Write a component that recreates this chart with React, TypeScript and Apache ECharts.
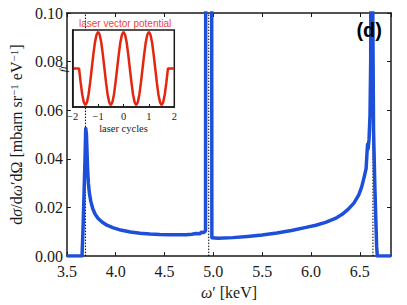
import React, { useEffect, useRef } from "react";
import * as echarts from "echarts";

// main spectrum: photon energy omega' [keV] and d sigma / d omega' d Omega
const omega = [
  3.5, 3.6, 3.655, 3.665, 3.675, 3.685, 3.693, 3.7, 3.706, 3.712, 3.72, 3.73,
  3.745, 3.765, 3.79, 3.82, 3.86, 3.91, 3.97, 4.05, 4.15, 4.25, 4.35, 4.45,
  4.55, 4.65, 4.72, 4.78, 4.82, 4.86, 4.88, 4.9, 4.915, 4.92, 4.925, 4.98,
  4.985, 5.05, 5.2, 5.35, 5.5, 5.65, 5.8, 5.95, 6.05, 6.15, 6.25, 6.32, 6.38,
  6.44, 6.49, 6.52, 6.545, 6.565, 6.575, 6.58, 6.585, 6.595, 6.605, 6.612,
  6.615, 6.628, 6.632, 6.641, 6.655, 6.673, 6.68, 6.82,
];
const dsigma = [
  0, 0, 0, 0.011, 0.025, 0.039, 0.0525, 0.05, 0.043, 0.036, 0.03, 0.026,
  0.0225, 0.0195, 0.0172, 0.0155, 0.014, 0.0127, 0.0117, 0.0107, 0.0099,
  0.0094, 0.0091, 0.0089, 0.0088, 0.0088, 0.0088, 0.009, 0.0093, 0.0092,
  0.0098, 0.0097, 0.0101, 0.0105, 0.3, 0.3, 0.0075, 0.0073, 0.0076, 0.0081,
  0.0087, 0.0095, 0.0105, 0.0118, 0.0127, 0.0139, 0.0155, 0.0172, 0.0192,
  0.0218, 0.0252, 0.0285, 0.0325, 0.036, 0.043, 0.046, 0.044, 0.048, 0.058,
  0.08, 0.3, 0.3, 0.11, 0.052, 0.028, 0.004, 0, 0,
];
// dotted reference energies
const cutoffs = [3.69, 4.953, 6.635];

// inset: laser vector potential vs laser cycles
const cycles = [
  -2, -1.75, -1.6875, -1.625, -1.5625, -1.5, -1.4375, -1.375, -1.3125, -1.25,
  -1.1875, -1.125, -1.0625, -1, -0.9375, -0.875, -0.8125, -0.75, -0.6875,
  -0.625, -0.5625, -0.5, -0.4375, -0.375, -0.3125, -0.25, -0.1875, -0.125,
  -0.0625, 0, 0.0625, 0.125, 0.1875, 0.25, 0.3125, 0.375, 0.4375, 0.5, 0.5625,
  0.625, 0.6875, 0.75, 0.8125, 0.875, 0.9375, 1, 1.0625, 1.125, 1.1875, 1.25,
  1.3125, 1.375, 1.4375, 1.5, 1.5625, 1.625, 1.6875, 1.75, 2,
];
const fL = [
  0,
  0, -0.38, -0.71, -0.92, -1, -0.92, -0.71, -0.38, 0, 0.38, 0.71, 0.92, 1, 0.92, 0.71, 0.38,
  0, -0.38, -0.71, -0.92, -1, -0.92, -0.71, -0.38, 0, 0.38, 0.71, 0.92, 1, 0.92, 0.71, 0.38,
  0, -0.38, -0.71, -0.92, -1, -0.92, -0.71, -0.38, 0, 0.38, 0.71, 0.92, 1, 0.92, 0.71, 0.38,
  0, -0.38, -0.71, -0.92, -1, -0.92, -0.71, -0.38, 0,
  0,
];

const mainTicksX = [3.5, 4.0, 4.5, 5.0, 5.5, 6.0, 6.5];

const SERIF = "Liberation Serif";
const SANS = "Liberation Sans";
const INK = "#1a1a1a";
const BLUE = "#1d4fd9";
const RED = "#e3260f";

export default function App() {
  const ref = useRef<HTMLDivElement>(null);
  useEffect(() => {
    if (!ref.current) return;
    const chart = echarts.init(ref.current, undefined, { renderer: "svg" });
    const tickStyle = { color: INK, width: 1 };
    const lineStyle = { color: INK, width: 1.5 };
    const n = { fontFamily: SERIF, fontSize: 16, color: INK };
    const it = { fontFamily: SERIF, fontSize: 16, color: INK, fontStyle: "italic" };
    const sup = { fontFamily: SERIF, fontSize: 11, color: INK, verticalAlign: "top" };

    const option: any = {
      animation: false,
      backgroundColor: "#fff",
      textStyle: { fontFamily: SERIF },
      grid: [
        { left: 57, right: 16, top: 13, bottom: 40, z: 0 },
        {
          left: 72.7, top: 30, width: 101.6, height: 77, z: 3,
          show: true, backgroundColor: "#fff", borderColor: INK, borderWidth: 1.5,
        },
      ],
      xAxis: [
        {
          type: "value", gridIndex: 0, min: 3.5, max: 6.82, interval: 0.5,
          axisLine: { show: true, onZero: false, lineStyle },
          axisTick: { show: true, inside: true, length: 4, lineStyle: tickStyle },
          axisLabel: {
            fontFamily: SERIF, fontSize: 16, color: INK, margin: 7,
            showMaxLabel: false,
            formatter: (v: number) =>
              mainTicksX.some((t) => Math.abs(t - v) < 1e-6) ? v.toFixed(1) : "",
          },
          splitLine: { show: false },
          name: "{i|ω}{n|′ [keV]}",
          nameLocation: "middle",
          nameGap: 22,
          nameTextStyle: { fontFamily: SERIF, rich: { i: it, n } },
        },
        {
          type: "value", gridIndex: 0, position: "top", min: 3.5, max: 6.82, interval: 0.5,
          axisLine: { show: true, onZero: false, lineStyle },
          axisTick: { show: true, inside: true, length: 4, lineStyle: tickStyle },
          axisLabel: { show: false },
          splitLine: { show: false },
        },
        {
          type: "value", gridIndex: 1, min: -2, max: 2, interval: 1, z: 5,
          axisLine: { show: true, onZero: false, lineStyle },
          axisTick: { show: true, inside: true, length: 3, lineStyle: tickStyle },
          axisLabel: {
            fontFamily: SERIF, fontSize: 10.5, color: INK, margin: 4,
            formatter: (v: number) => (v < 0 ? "−" + Math.abs(v) : String(v)),
          },
          splitLine: { show: false },
          name: "laser cycles",
          nameLocation: "middle",
          nameGap: 16,
          nameTextStyle: { fontFamily: SERIF, fontSize: 10.5, color: INK },
        },
      ],
      yAxis: [
        {
          type: "value", gridIndex: 0, min: 0, max: 0.1, interval: 0.02,
          axisLine: { show: true, onZero: false, lineStyle },
          axisTick: { show: true, inside: true, length: 4, lineStyle: tickStyle },
          axisLabel: {
            fontFamily: SERIF, fontSize: 16, color: INK, margin: 4,
            formatter: (v: number) => v.toFixed(2),
          },
          splitLine: { show: false },
          name:
            "{n|d}{i|σ}{n|/d}{i|ω}{n|′dΩ [mbarn sr}{s|−1}{n| eV}{s|−1}{n|]}",
          nameLocation: "middle",
          nameRotate: 90,
          nameGap: 37,
          nameTextStyle: { fontFamily: SERIF, rich: { n, i: it, s: sup } },
        },
        {
          type: "value", gridIndex: 0, position: "right", min: 0, max: 0.1, interval: 0.02,
          axisLine: { show: true, onZero: false, lineStyle },
          axisTick: { show: true, inside: true, length: 4, lineStyle: tickStyle },
          axisLabel: { show: false },
          splitLine: { show: false },
        },
        {
          type: "value", gridIndex: 1, min: -1.05, max: 1.05, z: 5,
          axisLine: { show: true, onZero: false, lineStyle },
          axisTick: { show: false },
          axisLabel: { show: false },
          splitLine: { show: false },
          name: "{i|f}{s|L}",
          nameLocation: "middle",
          nameRotate: 90,
          nameGap: 4,
          nameTextStyle: {
            fontFamily: SERIF,
            rich: {
              i: { fontFamily: SERIF, fontSize: 11, fontStyle: "italic", color: INK },
              s: { fontFamily: SERIF, fontSize: 8, fontStyle: "italic", color: INK, verticalAlign: "bottom" },
            },
          },
        },
      ],
      graphic: [
        {
          type: "text", left: 79, top: 18, z: 10,
          style: {
            text: "laser vector potential", fontFamily: SANS, fontSize: 10,
            fill: "#ee4436",
          },
        },
        {
          type: "text", right: 25, top: 20, z: 10,
          style: {
            text: "(d)", fontFamily: SANS, fontSize: 20, fontWeight: "bold", fill: "#000",
          },
        },
      ],
      series: [
        ...cutoffs.map((c) => ({
          type: "line", xAxisIndex: 0, yAxisIndex: 0, z: 1, symbol: "none",
          data: [[c, 0], [c, 0.1]],
          lineStyle: { color: "#000", width: 1, type: [1.5, 1.5] },
          silent: true,
        })),
        {
          type: "line", xAxisIndex: 0, yAxisIndex: 0, z: 2, symbol: "none",
          clip: true,
          data: omega.map((x, i) => [x, dsigma[i]]),
          lineStyle: { color: BLUE, width: 3.5, join: "round" },
        },
        {
          type: "line", xAxisIndex: 2, yAxisIndex: 2, z: 4, symbol: "none",
          data: cycles.map((t, i) => [t, fL[i]]),
          lineStyle: { color: RED, width: 2.5 },
        },
      ],
    };
    chart.setOption(option);
    return () => chart.dispose();
  }, []);
  return <div ref={ref} style={{ width: 407, height: 305, position: "absolute", left: 0, top: 0 }} />;
}
